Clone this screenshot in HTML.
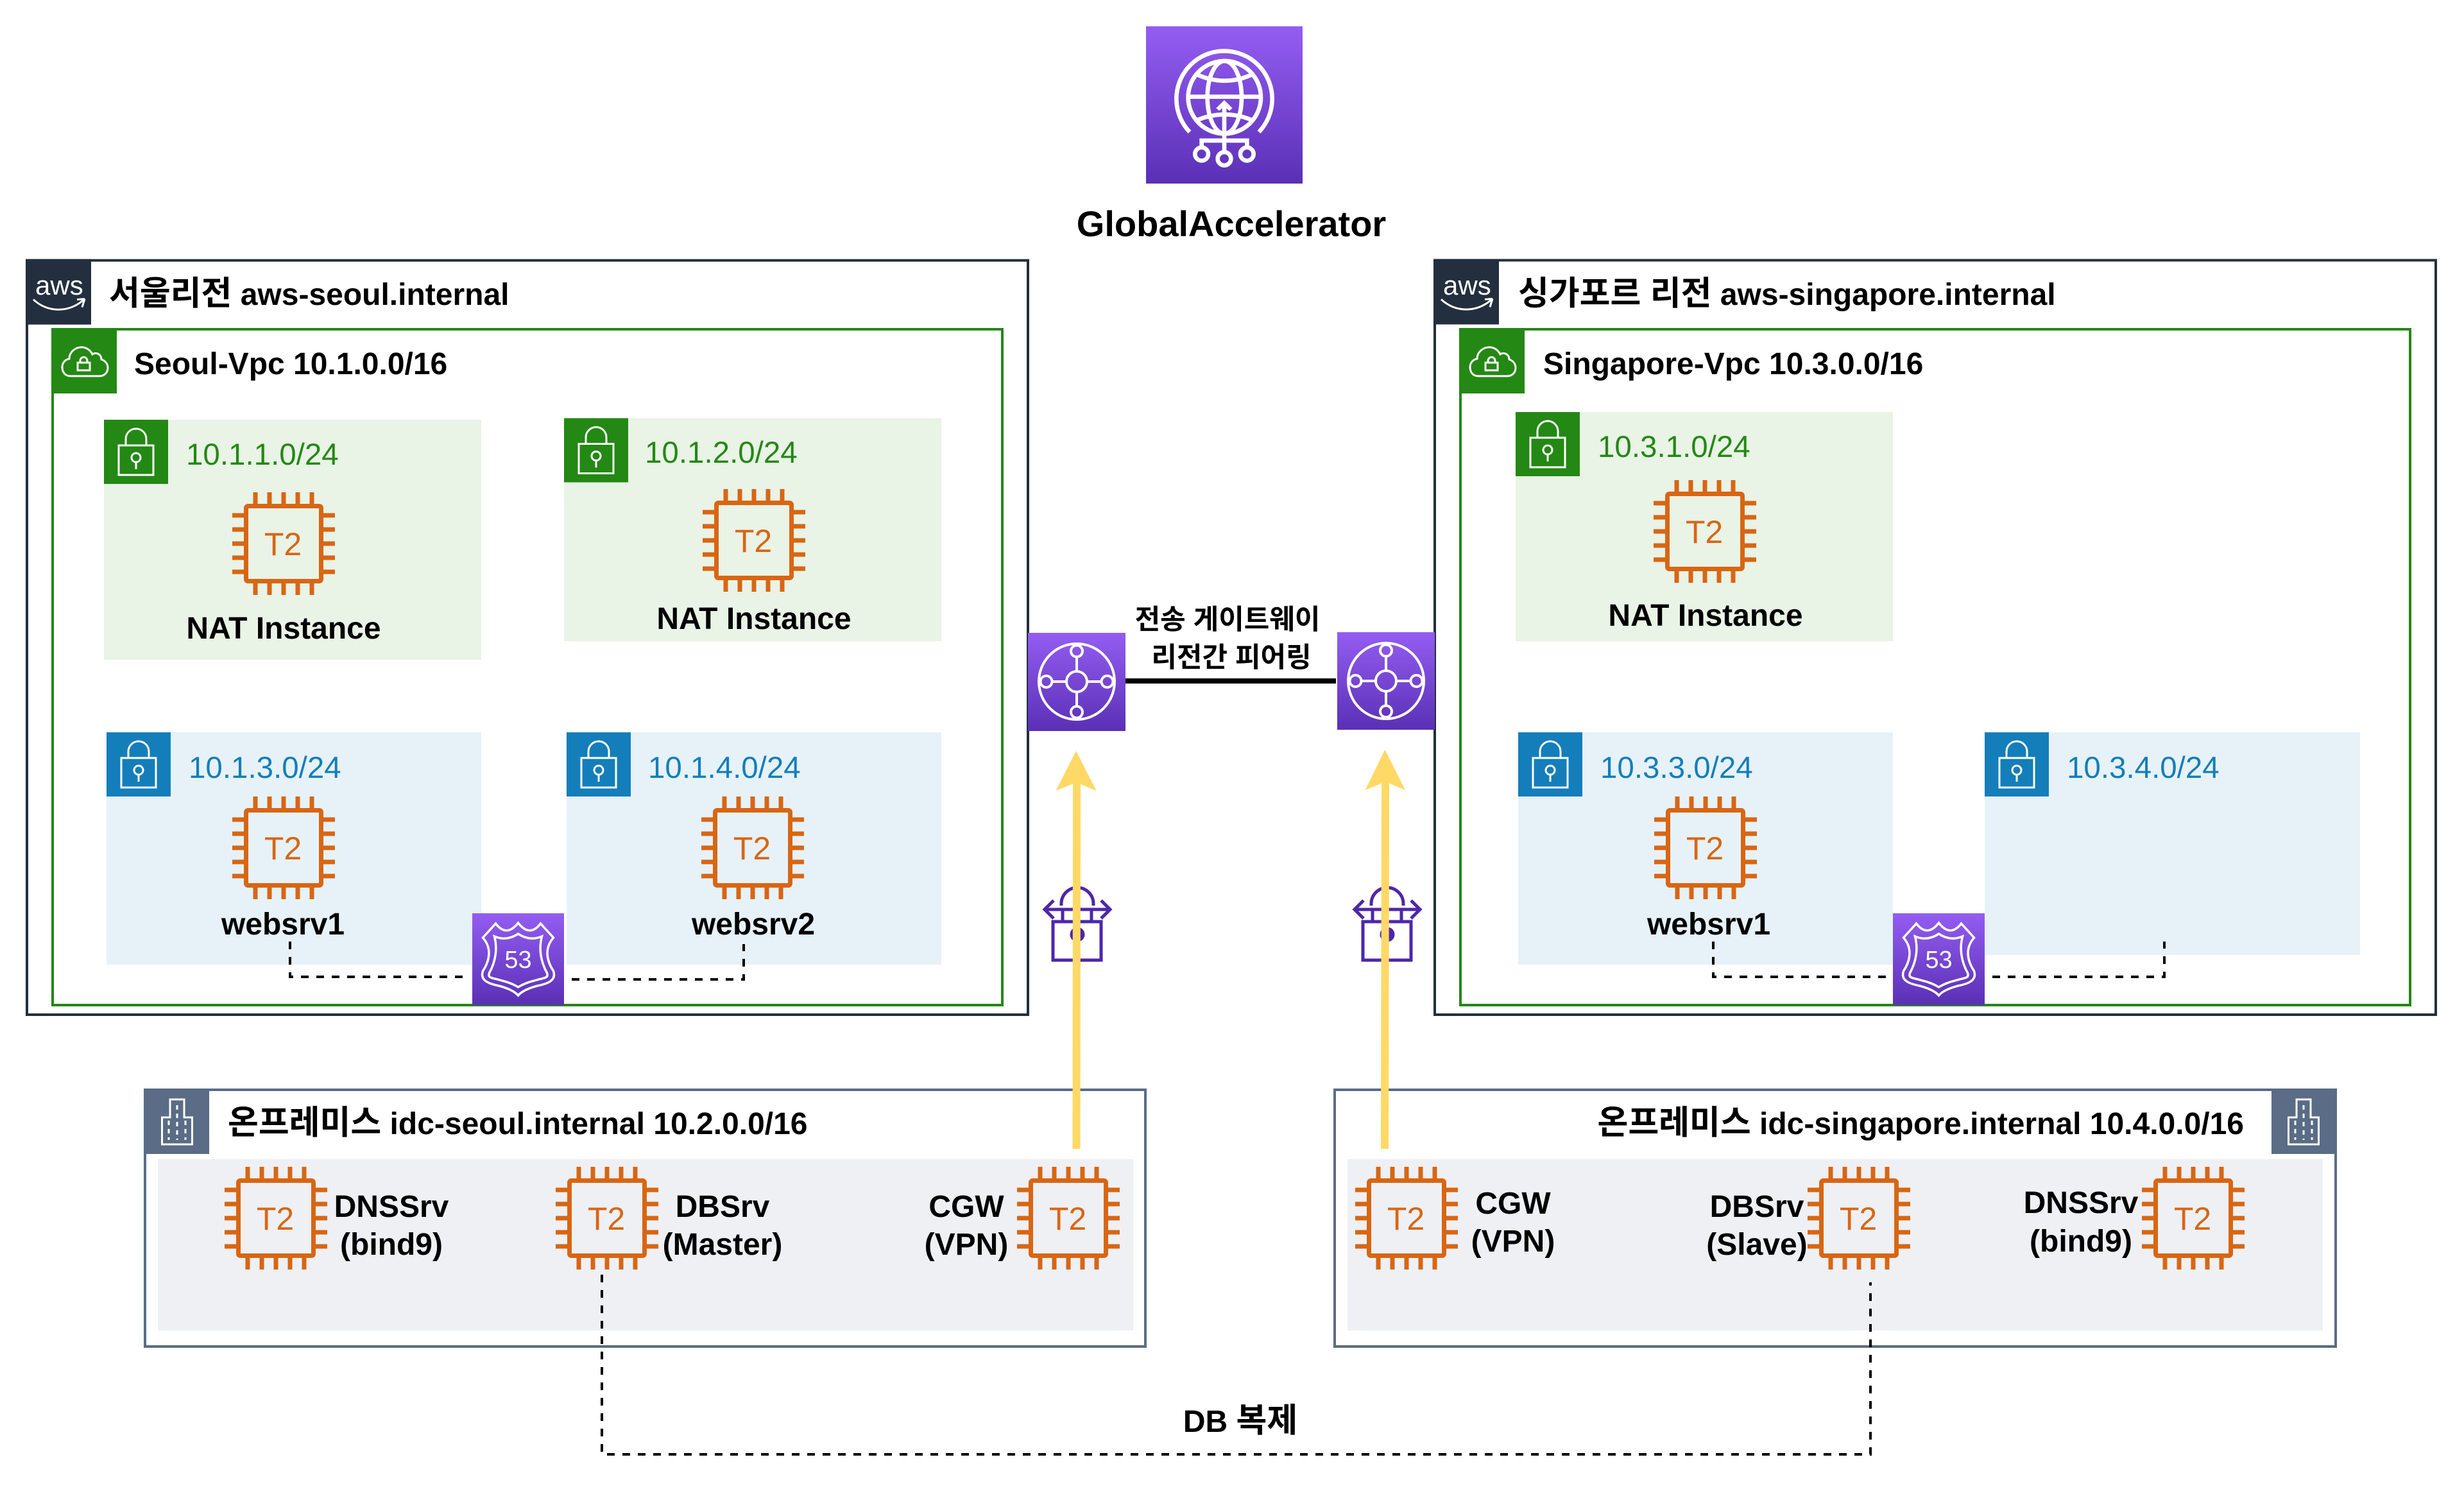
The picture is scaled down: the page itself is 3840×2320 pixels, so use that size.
<!DOCTYPE html>
<html><head><meta charset="utf-8">
<style>
html,body{margin:0;padding:0;background:#fff}
svg{display:block}
text{font-family:"Liberation Sans","Noto Sans CJK KR",sans-serif}
.b{font-weight:700;font-size:48px;fill:#000}
.k{font-size:52px}
.c{text-anchor:middle}
.g{font-size:47.5px;fill:#248814}
.l{font-size:47.5px;fill:#147eba}
.t2{font-size:50px;fill:#d86613;text-anchor:middle}
</style></head><body>
<svg xmlns="http://www.w3.org/2000/svg" width="3840" height="2320" viewBox="0 0 3840 2320">
<defs>
<linearGradient id="pg" x1="0" y1="0" x2="0" y2="1"><stop offset="0" stop-color="#945df2"/><stop offset="1" stop-color="#5a30b5"/></linearGradient>
<g id="chip" fill="none" stroke="#d86613" stroke-width="7">
<rect x="21.5" y="21.5" width="117" height="117" rx="3"/>
<path d="M36 0V18M58 0V18M80 0V18M102 0V18M124 0V18M36 142V160M58 142V160M80 142V160M102 142V160M124 142V160M0 36H18M0 58H18M0 80H18M0 102H18M0 124H18M142 36H160M142 58H160M142 80H160M142 102H160M142 124H160"/>
</g>
<g id="lock" fill="none" stroke="#fff" stroke-width="3">
<rect x="23" y="40" width="54" height="46"/>
<path d="M34 40V30A16 16 0 0 1 66 30V40"/>
<circle cx="50" cy="59" r="7"/><path d="M50 66V77"/>
</g>
<g id="aws">
<rect x="0" y="0" width="102" height="102" fill="#232f3e"/>
<path d="M12 63C35 84 68 84 92 62M92 62L88 75M92 62L80 63" fill="none" stroke="#fff" stroke-width="3"/>
</g>
<g id="cloud" fill="none" stroke="#fff" stroke-width="3">
<path d="M30 75C20 75 17 67 17 61C17 54 22 49 28 48C28 37 38 30 47 30C55 30 61 35 64 41C70 37 78 41 78 49C84 51 88 56 88 62C88 70 82 75 75 75Z"/>
<rect x="41" y="54" width="19" height="12"/><path d="M45 54V51A5.5 5.5 0 0 1 56 51V54"/>
</g>
<g id="bld" fill="none" stroke="#fff">
<path d="M-11 1741V1713H11V1741H23.5V1783H-23.5V1741Z" stroke-width="3"/>
<path d="M0 1722V1776M-13 1746V1776M13 1746V1776" stroke-width="3" stroke-dasharray="7 6"/>
</g>
<g id="tgw" fill="none" stroke="#fff" stroke-width="4">
<circle cx="0" cy="0" r="59"/><circle cx="0" cy="0" r="16"/>
<circle cx="-47.5" cy="0" r="9"/><circle cx="47.5" cy="0" r="9"/><circle cx="0" cy="-47.5" r="9"/><circle cx="0" cy="47.5" r="9"/>
<path d="M-38 0H-16M16 0H38M0 -38V-16M0 16V38"/>
</g>
<g id="r53" fill="none" stroke="#fff" stroke-width="3.5">
<path d="M-35 16Q-18 38 0 15Q18 38 35 16L55 38C40 55 45 75 55 90C60 105 45 110 30 113C15 117 5 122 0 128C-5 122 -15 117 -30 113C-45 110 -60 105 -55 90C-45 75 -40 55 -55 38Z"/>
<path d="M-37 36Q-18 44 0 32Q18 44 37 36C32 55 35 75 45 93C48 102 40 100 25 105C12 108 5 112 0 115C-5 112 -12 108 -25 105C-40 100 -48 102 -45 93C-35 75 -32 55 -37 36Z"/>
</g>
<g id="vpn" fill="none" stroke="#4d27aa" stroke-width="5">
<rect x="-37" y="53" width="75" height="60"/>
<path d="M-22 53V34M23 34V53M-24 28V25A25 25 0 0 1 26 25V28"/>
<path d="M-50 34H52M-36 20L-50 34L-36 48M38 20L52 34L38 48"/>
<circle cx="1" cy="73" r="9" fill="#4d27aa"/>
</g>
</defs>
<rect width="3840" height="2320" fill="#fff"/>

<!-- Global accelerator -->
<rect x="1786" y="41" width="244" height="245" fill="url(#pg)"/>
<g transform="translate(1700 0) scale(.33333)" fill="none" stroke="#fff" stroke-width="20">
<path d="M462 617A224 224 0 1 1 786 617"/>
<circle cx="625" cy="455" r="170"/>
<ellipse cx="625" cy="455" rx="80" ry="170"/>
<path d="M455 452H795M500 350Q625 405 750 350M500 560Q625 510 750 560"/>
<path d="M624 480V720M518 690V657H730V690"/>
<path d="M624 468L662 505L648 518L624 498L600 518L586 505Z" fill="#fff" stroke="none"/>
<circle cx="518" cy="720" r="31"/><circle cx="624" cy="742" r="31"/><circle cx="730" cy="720" r="31"/>
</g>
<text class="b c" x="1919" y="368" style="font-size:56px">GlobalAccelerator</text>

<!-- Seoul -->
<rect x="42" y="405.7" width="1560" height="1175.3" fill="#fff" stroke="#232f3e" stroke-width="4"/>
<use href="#aws" x="40" y="403.7"/>
<text x="55" y="459" style="font-size:42px" fill="#fff">aws</text>
<text class="b" x="170" y="475"><tspan class="k">서울리전</tspan> aws-seoul.internal</text>
<rect x="82" y="513" width="1480" height="1053" fill="#fff" stroke="#248814" stroke-width="4"/>
<rect x="80" y="511" width="102" height="102" fill="#248814"/>
<use href="#cloud" x="80" y="511"/>
<text class="b" x="209" y="583">Seoul-Vpc 10.1.0.0/16</text>

<rect x="162" y="654" width="588" height="374" fill="#e9f3e6"/>
<rect x="162" y="654" width="100" height="100" fill="#248814"/><use href="#lock" x="162" y="654"/>
<text class="g" x="290" y="724">10.1.1.0/24</text>
<use href="#chip" x="362" y="767"/><text class="t2" x="441" y="865">T2</text>
<text class="b c" x="442" y="995">NAT Instance</text>

<rect x="879" y="651.5" width="588" height="347.5" fill="#e9f3e6"/>
<rect x="879" y="651.5" width="100" height="100" fill="#248814"/><use href="#lock" x="879" y="651.5"/>
<text class="g" x="1005" y="721">10.1.2.0/24</text>
<use href="#chip" x="1095" y="762"/><text class="t2" x="1174" y="860">T2</text>
<text class="b c" x="1175" y="980">NAT Instance</text>

<rect x="166" y="1141" width="584" height="362" fill="#e6f2f8"/>
<rect x="166" y="1141" width="100" height="100" fill="#147eba"/><use href="#lock" x="166" y="1141"/>
<text class="l" x="294" y="1212">10.1.3.0/24</text>
<use href="#chip" x="362" y="1241"/><text class="t2" x="441" y="1339">T2</text>
<text class="b c" x="441" y="1456">websrv1</text>

<rect x="883" y="1141" width="584" height="362" fill="#e6f2f8"/>
<rect x="883" y="1141" width="100" height="100" fill="#147eba"/><use href="#lock" x="883" y="1141"/>
<text class="l" x="1010" y="1212">10.1.4.0/24</text>
<use href="#chip" x="1093" y="1241"/><text class="t2" x="1172" y="1339">T2</text>
<text class="b c" x="1174" y="1456">websrv2</text>

<path d="M452 1467V1522H721M891 1526H1159V1471" fill="none" stroke="#000" stroke-width="4" stroke-dasharray="12 12"/>
<rect x="736" y="1423" width="143" height="143" fill="url(#pg)"/>
<use href="#r53" x="807.5" y="1423"/>
<text x="807.5" y="1508" style="font-size:38px" fill="#fff" text-anchor="middle">53</text>

<!-- Singapore -->
<rect x="2236" y="405.5" width="1560" height="1175.5" fill="#fff" stroke="#232f3e" stroke-width="4"/>
<use href="#aws" x="2234" y="403.5"/>
<text x="2249" y="459" style="font-size:42px" fill="#fff">aws</text>
<text class="b" x="2366" y="475"><tspan class="k">싱가포르 리전</tspan> aws-singapore.internal</text>
<rect x="2276" y="513" width="1480" height="1053" fill="#fff" stroke="#248814" stroke-width="4"/>
<rect x="2274" y="511" width="102" height="102" fill="#248814"/>
<use href="#cloud" x="2274" y="511"/>
<text class="b" x="2405" y="583">Singapore-Vpc 10.3.0.0/16</text>

<rect x="2362" y="642" width="588" height="357" fill="#e9f3e6"/>
<rect x="2362" y="642" width="100" height="100" fill="#248814"/><use href="#lock" x="2362" y="642"/>
<text class="g" x="2490" y="712">10.3.1.0/24</text>
<use href="#chip" x="2577" y="748"/><text class="t2" x="2656" y="846">T2</text>
<text class="b c" x="2658" y="975">NAT Instance</text>

<rect x="2366" y="1141" width="584" height="362" fill="#e6f2f8"/>
<rect x="2366" y="1141" width="100" height="100" fill="#147eba"/><use href="#lock" x="2366" y="1141"/>
<text class="l" x="2494" y="1212">10.3.3.0/24</text>
<use href="#chip" x="2578" y="1241"/><text class="t2" x="2657" y="1339">T2</text>
<text class="b c" x="2663" y="1456">websrv1</text>

<rect x="3093" y="1141" width="585" height="347" fill="#e6f2f8"/>
<rect x="3093" y="1141" width="100" height="100" fill="#147eba"/><use href="#lock" x="3093" y="1141"/>
<text class="l" x="3221" y="1212">10.3.4.0/24</text>

<path d="M2670 1467V1522H2939M3105 1522H3373V1467" fill="none" stroke="#000" stroke-width="4" stroke-dasharray="12 12"/>
<rect x="2950" y="1423" width="143" height="143" fill="url(#pg)"/>
<use href="#r53" x="3021.5" y="1423"/>
<text x="3021.5" y="1508" style="font-size:38px" fill="#fff" text-anchor="middle">53</text>

<!-- TGW -->
<rect x="1602" y="986" width="152" height="153" fill="url(#pg)"/>
<use href="#tgw" x="1678" y="1062"/>
<rect x="2084" y="985" width="152" height="152" fill="url(#pg)"/>
<use href="#tgw" x="2160" y="1061"/>
<rect x="1754" y="1057" width="328" height="8" fill="#000"/>
<text class="c" x="1913" y="980" style="font-size:43px;font-weight:700">전송 게이트웨이</text>
<text class="c" x="1919" y="1039" style="font-size:43px;font-weight:700">리전간 피어링</text>

<!-- VPN gateways -->
<use href="#vpn" x="1678" y="1383"/>
<use href="#vpn" x="2161" y="1383"/>

<!-- On-prem Seoul -->
<rect x="226" y="1698" width="1559" height="400" fill="#fff" stroke="#5a6c86" stroke-width="4"/>
<rect x="224" y="1696" width="102" height="102" fill="#5a6c86"/>
<use href="#bld" x="276" y="0"/>
<text class="b" x="355" y="1767"><tspan class="k">온프레미스</tspan> idc-seoul.internal 10.2.0.0/16</text>
<rect x="246" y="1806" width="1520" height="267" fill="#eef0f4"/>
<use href="#chip" x="350" y="1818"/><text class="t2" x="429" y="1916">T2</text>
<text class="b c" x="610" y="1896">DNSSrv</text><text class="b c" x="610" y="1955">(bind9)</text>
<use href="#chip" x="866" y="1818"/><text class="t2" x="945" y="1916">T2</text>
<text class="b c" x="1126" y="1896">DBSrv</text><text class="b c" x="1126" y="1955">(Master)</text>
<use href="#chip" x="1585" y="1818"/><text class="t2" x="1664" y="1916">T2</text>
<text class="b c" x="1506" y="1896">CGW</text><text class="b c" x="1506" y="1955">(VPN)</text>

<!-- On-prem Singapore -->
<rect x="2080" y="1698" width="1560" height="400" fill="#fff" stroke="#5a6c86" stroke-width="4"/>
<rect x="3540" y="1696" width="102" height="102" fill="#5a6c86"/>
<use href="#bld" x="3590" y="0"/>
<text class="b" x="3497" y="1767" text-anchor="end"><tspan class="k">온프레미스</tspan> idc-singapore.internal 10.4.0.0/16</text>
<rect x="2100" y="1806" width="1520" height="267" fill="#eef0f4"/>
<use href="#chip" x="2112" y="1818"/><text class="t2" x="2191" y="1916">T2</text>
<text class="b c" x="2358" y="1891">CGW</text><text class="b c" x="2358" y="1950">(VPN)</text>
<use href="#chip" x="2817" y="1818"/><text class="t2" x="2896" y="1916">T2</text>
<text class="b c" x="2738" y="1896">DBSrv</text><text class="b c" x="2738" y="1955">(Slave)</text>
<use href="#chip" x="3338" y="1818"/><text class="t2" x="3417" y="1916">T2</text>
<text class="b c" x="3243" y="1890">DNSSrv</text><text class="b c" x="3243" y="1950">(bind9)</text>

<!-- DB replication -->
<path d="M938 1986V2266H2915V1998" fill="none" stroke="#000" stroke-width="4" stroke-dasharray="12 12"/>
<text class="b c" x="1933" y="2231">DB <tspan class="k">복제</tspan></text>

<!-- Yellow arrows -->
<path d="M1678 1219L1677.5 1790" stroke="#ffd966" stroke-width="12" fill="none"/>
<path d="M1677 1170L1708.5 1232L1677.5 1219L1645.5 1232Z" fill="#ffd966"/>
<path d="M2159 1218L2158 1790" stroke="#ffd966" stroke-width="12" fill="none"/>
<path d="M2158.3 1168L2190 1231L2159 1218L2127.7 1231Z" fill="#ffd966"/>
</svg>
</body></html>
